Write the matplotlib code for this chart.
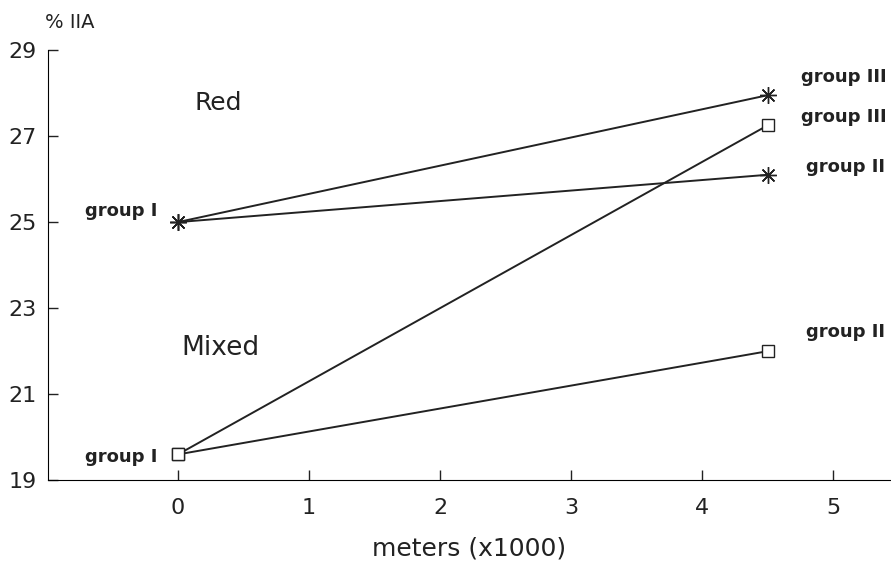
import matplotlib.pyplot as plt

# distance in meters (x1000)
x_pts = [0, 4.5]

# % IIA by group
red_group3 = [25.0, 27.95]
red_group2 = [25.0, 26.1]
mixed_group3 = [19.6, 27.25]
mixed_group2 = [19.6, 22.0]

x_ticks = [0, 1, 2, 3, 4, 5]
y_ticks = [19, 21, 23, 25, 27, 29]

plt.rcParams['font.family'] = ['DejaVu Sans']

fig = plt.figure(figsize=(8.91, 5.65), dpi=100)
ax = fig.add_axes([0.054, 0.150, 0.946, 0.7615])

star = dict(marker=(8, 2, 0), markersize=12, markeredgewidth=1.0)
box = dict(marker='s', markersize=9, markerfacecolor='white', markeredgewidth=1.0)

ax.plot(x_pts, red_group3, color='#222222', lw=1.4, **star)
ax.plot(x_pts, red_group2, color='#222222', lw=1.4, **star)
ax.plot(x_pts, mixed_group3, color='#222222', lw=1.4, zorder=1, **box)
ax.plot(x_pts, mixed_group2, color='#222222', lw=1.4, zorder=1, **box)

ax.set_xlim(-0.99, 5.44)
ax.set_ylim(19, 29)
ax.set_xticks(x_ticks)
ax.set_yticks(y_ticks)
ax.tick_params(direction='in', length=7, width=1, labelsize=16, colors='#222222')
ax.tick_params(axis='x', pad=13)
ax.tick_params(axis='y', pad=8)
ax.spines['top'].set_visible(False)
ax.spines['right'].set_visible(False)

lab = dict(fontsize=13, fontweight='bold', color='#222222', va='center')
ax.text(-0.16, 25.26, 'group I', ha='right', **lab)
ax.text(-0.16, 19.55, 'group I', ha='right', **lab)
ax.text(4.75, 28.37, 'group III', ha='left', **lab)
ax.text(4.75, 27.44, 'group III', ha='left', **lab)
ax.text(4.79, 26.28, 'group II', ha='left', **lab)
ax.text(4.79, 22.44, 'group II', ha='left', **lab)

ax.text(0.13, 27.77, 'Red', fontsize=18, color='#222222', va='center')
ax.text(0.03, 22.07, 'Mixed', fontsize=19, color='#222222', va='center')

fig.text(0.05, 0.961, '% IIA', fontsize=14, color='#222222', va='center')
ax.set_xlabel('meters (x1000)', fontsize=18, labelpad=13, color='#222222')

fig.savefig('out.png', dpi=100)
